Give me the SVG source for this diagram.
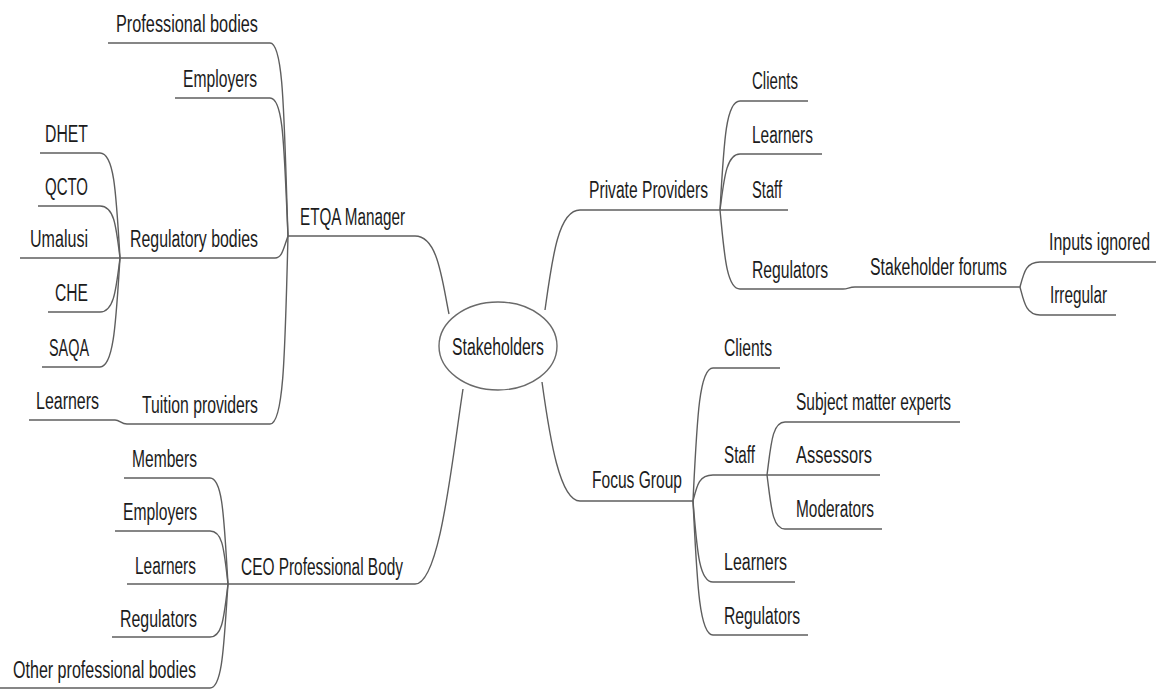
<svg xmlns="http://www.w3.org/2000/svg" width="1156" height="691" viewBox="0 0 1156 691">
  <style>
    text { font-family: "Liberation Sans", Arial, sans-serif; font-size: 23px; fill: #1c1c1c; }
    .ul { fill: none; stroke: #5e5e5e; stroke-width: 1.4; }
    .cn { fill: none; stroke: #5e5e5e; stroke-width: 1.4; }
    .hub { fill: #ffffff; stroke: #6a6a6a; stroke-width: 1.4; }
  </style>
  <rect width="1156" height="691" fill="#ffffff"/>

  <!-- branch connectors -->
  <g id="connectors">
    <!-- centre to main branches -->
    <path class="cn" d="M415,236 C438,236 442,280 449,314"/>
    <path class="cn" d="M415,584 C440,584 452,460 463,389"/>
    <path class="cn" d="M545,310 C552,260 558,210 580,210"/>
    <path class="cn" d="M542,382 C550,440 560,501 580,501"/>
    <!-- ETQA Manager children -->
    <path class="cn" d="M288,236 C284,120 284,43 270,43"/>
    <path class="cn" d="M288,236 C284,150 284,98 270,98"/>
    <path class="cn" d="M288,236 C283,250 282,258 275,258"/>
    <path class="cn" d="M288,236 C285,350 284,424 270,424"/>
    <!-- Regulatory bodies children -->
    <path class="cn" d="M120,258 C116,190 114,153 100,153"/>
    <path class="cn" d="M120,258 C116,225 114,206 100,206"/>
    <path class="cn" d="M120,258 C116,290 114,312 100,312"/>
    <path class="cn" d="M120,258 C116,320 114,367 100,367"/>
    <!-- Tuition providers child -->
    <path class="cn" d="M115,420 C120,420 121,424 127,424"/>
    <!-- CEO Professional Body children -->
    <path class="cn" d="M228,584 C224,520 223,478 210,478"/>
    <path class="cn" d="M228,584 C224,550 223,531 210,531"/>
    <path class="cn" d="M228,584 C224,615 223,637 210,637"/>
    <path class="cn" d="M228,584 C224,640 223,688 210,688"/>
    <!-- Private Providers children -->
    <path class="cn" d="M720,210 C724,140 726,101 740,101"/>
    <path class="cn" d="M720,210 C724,180 726,154 740,154"/>
    <path class="cn" d="M720,210 C724,250 726,289 740,289"/>
    <!-- Regulators to Stakeholder forums -->
    <path class="cn" d="M843,289 C848,289 849,287 855,287"/>
    <!-- Stakeholder forums children -->
    <path class="cn" d="M1020,287 C1024,272 1026,262 1040,262"/>
    <path class="cn" d="M1020,287 C1024,302 1026,315 1040,315"/>
    <!-- Focus Group children -->
    <path class="cn" d="M693,501 C697,420 699,368 713,368"/>
    <path class="cn" d="M693,501 C697,485 699,475 713,475"/>
    <path class="cn" d="M693,501 C697,550 699,582 713,582"/>
    <path class="cn" d="M693,501 C697,580 699,635 713,635"/>
    <!-- Staff children -->
    <path class="cn" d="M767,475 C771,445 772,422 785,422"/>
    <path class="cn" d="M767,475 C771,505 772,529 785,529"/>
  </g>

  <!-- centre -->
  <g id="stakeholders">
    <ellipse class="hub" cx="498" cy="346" rx="59" ry="44"/>
    <text x="452" y="355" textLength="92" lengthAdjust="spacingAndGlyphs">Stakeholders</text>
  </g>

  <!-- ETQA Manager branch -->
  <g id="etqa-manager">
    <path class="ul" d="M288,236 H415"/>
    <text x="300" y="225" textLength="105" lengthAdjust="spacingAndGlyphs">ETQA Manager</text>
  </g>
  <g id="professional-bodies">
    <path class="ul" d="M108,43 H270"/>
    <text x="116" y="32" textLength="142" lengthAdjust="spacingAndGlyphs">Professional bodies</text>
  </g>
  <g id="etqa-employers">
    <path class="ul" d="M175,98 H270"/>
    <text x="183" y="87" textLength="74" lengthAdjust="spacingAndGlyphs">Employers</text>
  </g>
  <g id="regulatory-bodies">
    <path class="ul" d="M120,258 H275"/>
    <text x="130" y="247" textLength="128" lengthAdjust="spacingAndGlyphs">Regulatory bodies</text>
  </g>
  <g id="dhet">
    <path class="ul" d="M40,153 H100"/>
    <text x="45" y="142" textLength="43" lengthAdjust="spacingAndGlyphs">DHET</text>
  </g>
  <g id="qcto">
    <path class="ul" d="M38,206 H100"/>
    <text x="45" y="195" textLength="43" lengthAdjust="spacingAndGlyphs">QCTO</text>
  </g>
  <g id="umalusi">
    <path class="ul" d="M20,258 H120"/>
    <text x="30" y="247" textLength="58" lengthAdjust="spacingAndGlyphs">Umalusi</text>
  </g>
  <g id="che">
    <path class="ul" d="M48,312 H100"/>
    <text x="55" y="301" textLength="33" lengthAdjust="spacingAndGlyphs">CHE</text>
  </g>
  <g id="saqa">
    <path class="ul" d="M42,367 H100"/>
    <text x="49" y="356" textLength="40" lengthAdjust="spacingAndGlyphs">SAQA</text>
  </g>
  <g id="tuition-providers">
    <path class="ul" d="M127,424 H270"/>
    <text x="142" y="413" textLength="116" lengthAdjust="spacingAndGlyphs">Tuition providers</text>
  </g>
  <g id="tuition-learners">
    <path class="ul" d="M29,420 H115"/>
    <text x="36" y="409" textLength="63" lengthAdjust="spacingAndGlyphs">Learners</text>
  </g>

  <!-- CEO Professional Body branch -->
  <g id="ceo-professional-body">
    <path class="ul" d="M228,584 H415"/>
    <text x="241" y="575" textLength="162" lengthAdjust="spacingAndGlyphs">CEO Professional Body</text>
  </g>
  <g id="ceo-members">
    <path class="ul" d="M124,478 H210"/>
    <text x="132" y="467" textLength="65" lengthAdjust="spacingAndGlyphs">Members</text>
  </g>
  <g id="ceo-employers">
    <path class="ul" d="M115,531 H210"/>
    <text x="123" y="520" textLength="74" lengthAdjust="spacingAndGlyphs">Employers</text>
  </g>
  <g id="ceo-learners">
    <path class="ul" d="M127,584 H228"/>
    <text x="135" y="574" textLength="61" lengthAdjust="spacingAndGlyphs">Learners</text>
  </g>
  <g id="ceo-regulators">
    <path class="ul" d="M112,637 H210"/>
    <text x="120" y="627" textLength="77" lengthAdjust="spacingAndGlyphs">Regulators</text>
  </g>
  <g id="ceo-other-bodies">
    <path class="ul" d="M0,688 H210"/>
    <text x="13" y="678" textLength="183" lengthAdjust="spacingAndGlyphs">Other professional bodies</text>
  </g>

  <!-- Private Providers branch -->
  <g id="private-providers">
    <path class="ul" d="M580,210 H720"/>
    <text x="589" y="198" textLength="119" lengthAdjust="spacingAndGlyphs">Private Providers</text>
  </g>
  <g id="pp-clients">
    <path class="ul" d="M740,101 H808"/>
    <text x="752" y="89" textLength="46" lengthAdjust="spacingAndGlyphs">Clients</text>
  </g>
  <g id="pp-learners">
    <path class="ul" d="M740,154 H822"/>
    <text x="752" y="143" textLength="61" lengthAdjust="spacingAndGlyphs">Learners</text>
  </g>
  <g id="pp-staff">
    <path class="ul" d="M720,210 H788"/>
    <text x="752" y="198" textLength="30" lengthAdjust="spacingAndGlyphs">Staff</text>
  </g>
  <g id="pp-regulators">
    <path class="ul" d="M740,289 H843"/>
    <text x="752" y="278" textLength="76" lengthAdjust="spacingAndGlyphs">Regulators</text>
  </g>
  <g id="stakeholder-forums">
    <path class="ul" d="M855,287 H1020"/>
    <text x="870" y="275" textLength="137" lengthAdjust="spacingAndGlyphs">Stakeholder forums</text>
  </g>
  <g id="inputs-ignored">
    <path class="ul" d="M1040,262 H1156"/>
    <text x="1049" y="250" textLength="101" lengthAdjust="spacingAndGlyphs">Inputs ignored</text>
  </g>
  <g id="irregular">
    <path class="ul" d="M1040,315 H1116"/>
    <text x="1050" y="303" textLength="57" lengthAdjust="spacingAndGlyphs">Irregular</text>
  </g>

  <!-- Focus Group branch -->
  <g id="focus-group">
    <path class="ul" d="M580,501 H693"/>
    <text x="592" y="488" textLength="90" lengthAdjust="spacingAndGlyphs">Focus Group</text>
  </g>
  <g id="fg-clients">
    <path class="ul" d="M713,368 H780"/>
    <text x="724" y="356" textLength="48" lengthAdjust="spacingAndGlyphs">Clients</text>
  </g>
  <g id="fg-staff">
    <path class="ul" d="M713,475 H767"/>
    <text x="724" y="463" textLength="31" lengthAdjust="spacingAndGlyphs">Staff</text>
  </g>
  <g id="subject-matter-experts">
    <path class="ul" d="M785,422 H960"/>
    <text x="796" y="410" textLength="155" lengthAdjust="spacingAndGlyphs">Subject matter experts</text>
  </g>
  <g id="assessors">
    <path class="ul" d="M767,475 H880"/>
    <text x="796" y="463" textLength="76" lengthAdjust="spacingAndGlyphs">Assessors</text>
  </g>
  <g id="moderators">
    <path class="ul" d="M785,529 H882"/>
    <text x="796" y="517" textLength="78" lengthAdjust="spacingAndGlyphs">Moderators</text>
  </g>
  <g id="fg-learners">
    <path class="ul" d="M713,582 H795"/>
    <text x="724" y="570" textLength="63" lengthAdjust="spacingAndGlyphs">Learners</text>
  </g>
  <g id="fg-regulators">
    <path class="ul" d="M713,635 H808"/>
    <text x="724" y="624" textLength="76" lengthAdjust="spacingAndGlyphs">Regulators</text>
  </g>
</svg>
